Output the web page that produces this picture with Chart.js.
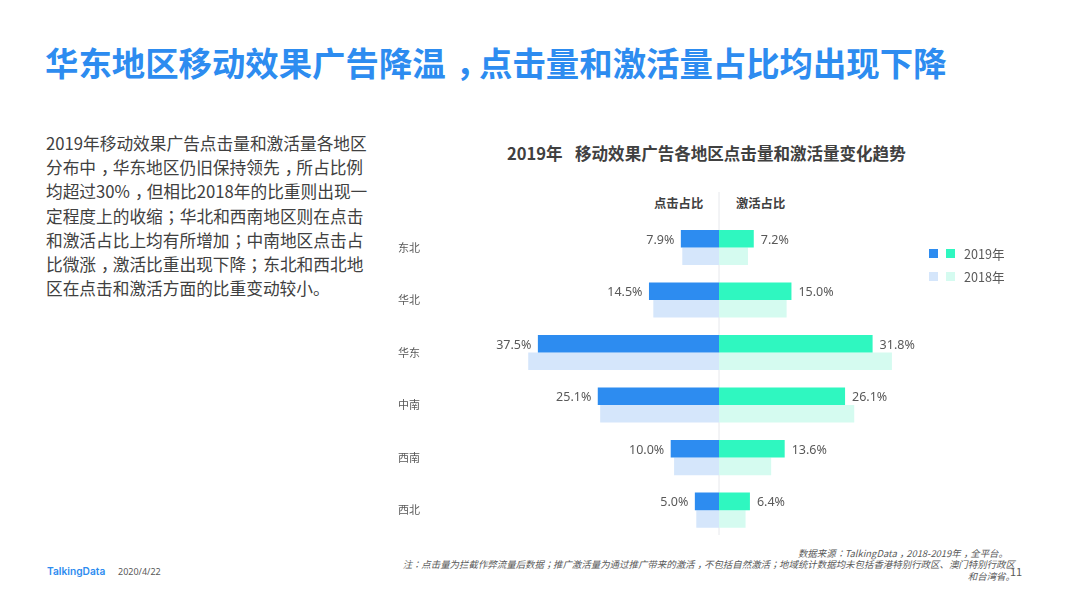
<!DOCTYPE html>
<html>
<head>
<meta charset="utf-8">
<style>
  @font-face { font-family: "CenterPunct"; src: local("Noto Sans CJK TC"); unicode-range: U+FF1A, U+FF1B; }
  html, body { margin: 0; padding: 0; background: #fff; }
  body { width: 1066px; height: 599px; position: relative; overflow: hidden;
         font-family: "CenterPunct", "Noto Sans CJK SC", "Noto Sans", sans-serif; color: #404040; }
  .abs { position: absolute; white-space: nowrap; }
  .cm { position: relative; left: 0.3em; }
  #pageTitle { left: 45px; top: 38px; font-size: 33.4px; line-height: 48px; font-weight: 700; color: #2d8cf0; }
  #intro { left: 46px; top: 131px; width: 330px; font-size: 16.7px; line-height: 24.2px; color: #404040; }
  #intro div { white-space: nowrap; }
  #chartTitle { left: 507px; top: 141px; font-size: 16.55px; line-height: 24px; font-weight: 700; color: #404040; white-space: pre; word-spacing: 2.5px; }
  .head { top: 194px; font-size: 12.3px; line-height: 18px; font-weight: 700; color: #404040; }
  .swatch { position: absolute; width: 9px; height: 9px; }
  .legendText { left: 964px; font-size: 12.6px; line-height: 18px; color: #595959; }
  .note { right: 51px; font-size: 9.45px; line-height: 12px; font-style: italic; color: #595959; }
  #chartBox { position: absolute; left: 390px; top: 185px; width: 650px; height: 358px; }
</style>
</head>
<body>
<div class="abs" id="pageTitle">华东地区移动效果广告降温，点击量和激活量占比均出现下降</div>
<div class="abs" id="intro">
  <div>2019年移动效果广告点击量和激活量各地区</div>
  <div>分布中，华东地区仍旧保持领先，所占比例</div>
  <div>均超过30%，但相比2018年的比重则出现一</div>
  <div>定程度上的收缩；华北和西南地区则在点击</div>
  <div>和激活占比上均有所增加；中南地区点击占</div>
  <div>比微涨，激活比重出现下降；东北和西北地</div>
  <div>区在点击和激活方面的比重变动较小。</div>
</div>
<div class="abs" id="chartTitle">2019年  移动效果广告各地区点击量和激活量变化趋势</div>
<div class="abs head" style="left:654px">点击占比</div>
<div class="abs head" style="left:736px">激活占比</div>

<div id="chartBox"><canvas id="regionChart" width="650" height="358"></canvas></div>

<div class="swatch" style="left:929px;top:249px;background:#2d8cf0"></div>
<div class="swatch" style="left:946px;top:249px;background:#2ff7c0"></div>
<div class="abs legendText" style="top:245px">2019年</div>
<div class="swatch" style="left:929px;top:272px;background:#d5e6fb"></div>
<div class="swatch" style="left:946px;top:272px;background:#d5fbf0"></div>
<div class="abs legendText" style="top:268px">2018年</div>

<div class="abs note" style="top:547px;right:58px">数据来源：TalkingData，2018-2019年，全平台。</div>
<div class="abs note" style="top:558px">注：点击量为拦截作弊流量后数据；推广激活量为通过推广带来的激活，不包括自然激活；地域统计数据均未包括香港特别行政区、澳门特别行政区</div>
<div class="abs note" style="top:570px">和台湾省。</div>
<div class="abs" style="left:1010px;top:564px;font-size:11px;line-height:14px;color:#595959">11</div>
<div class="abs" style="left:47px;top:564px;font-size:10.2px;line-height:14px;font-weight:600;color:#2d8cf0;font-family:Inter,sans-serif">TalkingData</div>
<div class="abs" style="left:118px;top:565px;font-size:9px;line-height:14px;color:#595959;font-family:'Noto Sans',sans-serif">2020/4/22</div>

<script src="https://cdn.jsdelivr.net/npm/chart.js@4/dist/chart.umd.min.js"></script>
<script>
const regions = ['东北', '华北', '华东', '中南', '西南', '西北'];
const click2019 = [7.9, 14.5, 37.5, 25.1, 10.0, 5.0];
const click2018 = [7.6, 13.6, 39.5, 24.6, 9.3, 4.7];
const active2019 = [7.2, 15.0, 31.8, 26.1, 13.6, 6.4];
const active2018 = [6.0, 14.0, 35.8, 28.0, 10.8, 5.5];

// Commas sit mid-cell in the original, nudge them over
document.querySelectorAll('#pageTitle, #intro div, .note').forEach(el => {
  el.innerHTML = el.innerHTML.replace(/，/g, '<span class="cm">，</span>');
});

// Zero line runs up past the plot area, under the two column headings
const centerLine = {
  id: 'centerLine',
  beforeDatasetsDraw(chart) {
    const x = chart.scales.x.getPixelForValue(0);
    const ctx = chart.ctx;
    ctx.save();
    ctx.strokeStyle = '#e6e8ec';
    ctx.lineWidth = 1;
    ctx.beginPath();
    ctx.moveTo(x, 7);
    ctx.lineTo(x, 350);
    ctx.stroke();
    ctx.restore();
  }
};

// Percent labels, only on the 2019 bars
const barLabels = {
  id: 'barLabels',
  afterDatasetsDraw(chart) {
    const ctx = chart.ctx;
    ctx.save();
    ctx.font = '12.5px "Noto Sans", sans-serif';
    ctx.fillStyle = '#595959';
    ctx.textBaseline = 'middle';
    chart.data.datasets.forEach((ds, i) => {
      if (ds.stack !== 'y2019') return;
      chart.getDatasetMeta(i).data.forEach((bar, j) => {
        const v = ds.data[j];
        ctx.textAlign = v < 0 ? 'right' : 'left';
        ctx.fillText(Math.abs(v).toFixed(1) + '%', bar.x + (v < 0 ? -6.5 : 7), bar.y + 1.5);
      });
    });
    ctx.restore();
  }
};

new Chart(document.getElementById('regionChart'), {
  type: 'bar',
  data: {
    labels: regions,
    datasets: [
      { label: '点击占比 2019', stack: 'y2019', data: click2019.map(v => -v), backgroundColor: '#2d8cf0' },
      { label: '激活占比 2019', stack: 'y2019', data: active2019, backgroundColor: '#2ff7c0' },
      { label: '点击占比 2018', stack: 'y2018', data: click2018.map(v => -v), backgroundColor: '#d5e6fb' },
      { label: '激活占比 2018', stack: 'y2018', data: active2018, backgroundColor: '#d5fbf0' }
    ]
  },
  options: {
    indexAxis: 'y',
    responsive: false,
    animation: false,
    categoryPercentage: 0.667,
    barPercentage: 1,
    layout: { padding: { left: 8, right: 31.2, top: 36.25, bottom: 6.6 } },
    plugins: { legend: { display: false }, tooltip: { enabled: false } },
    scales: {
      x: { stacked: true, min: -60, max: 60, display: false },
      y: {
        stacked: true,
        grid: { display: false },
        border: { display: false },
        afterFit(scale) { scale.width = 31.2; },
        ticks: {
          crossAlign: 'far',
          padding: 0,
          color: '#595959',
          font: { size: 11, family: '"Noto Sans CJK SC", sans-serif' }
        }
      }
    }
  },
  plugins: [centerLine, barLabels]
});
</script>
</body>
</html>
